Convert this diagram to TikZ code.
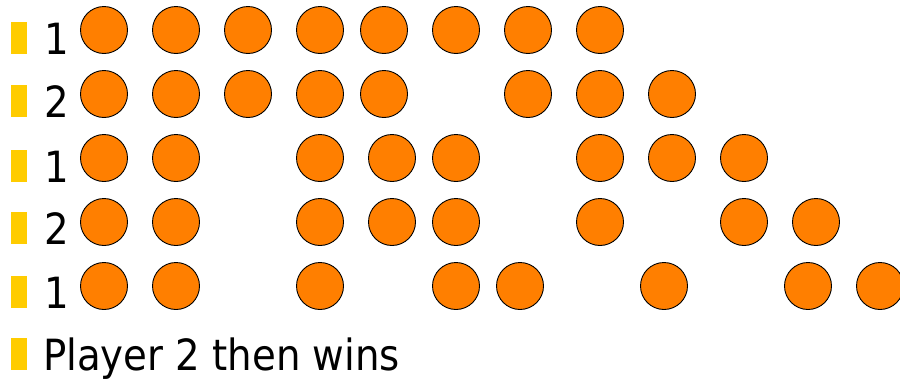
\documentclass[tikz,border=0pt]{standalone}
\usepackage{fontspec}
\setmainfont{DejaVu Sans Condensed}
\definecolor{coinc}{HTML}{FF7F00}
\definecolor{bulc}{HTML}{FFCC00}
\begin{document}
\begin{tikzpicture}[x=1pt,y=-1pt,
  coin/.style={circle,draw=black,line width=0.9pt,fill=coinc,minimum size=47pt,inner sep=0pt},
  bulletbox/.style={fill=bulc,draw=none,minimum width=15.5pt,minimum height=31.5pt,inner sep=0pt,anchor=south west},
  lbl/.style={font=\fontsize{43}{50}\selectfont,inner sep=0pt,anchor=base west}]
\useasboundingbox (0,0) rectangle (900,383);
% bullets and labels
\foreach \i/\b/\t in {1/54/1,2/117/2,3/182/1,4/244/2,5/308/1}{
  \node[bulletbox] (b\i) at (11,\b) {};
  \node[lbl] (t\i) at (44,\b) {\t};
}
\node[bulletbox] (b6) at (11,370) {};
\node[lbl] (t6) at (43,370) {Player 2 then wins};
% coins
\foreach \x [count=\k] in {104,176,248,320,384,456,528,600}
  \node[coin] (a\k) at (\x,30) {};
\foreach \x [count=\k] in {104,176,248,320,384,528,600,672}
  \node[coin] (c\k) at (\x,94) {};
\foreach \x [count=\k] in {104,176,320,392,456,600,672,744}
  \node[coin] (d\k) at (\x,158) {};
\foreach \x [count=\k] in {104,176,320,392,456,600,744,816}
  \node[coin] (e\k) at (\x,222) {};
\foreach \x [count=\k] in {104,176,320,456,520,664,808,880}
  \node[coin] (f\k) at (\x,286) {};
\end{tikzpicture}
\end{document}
